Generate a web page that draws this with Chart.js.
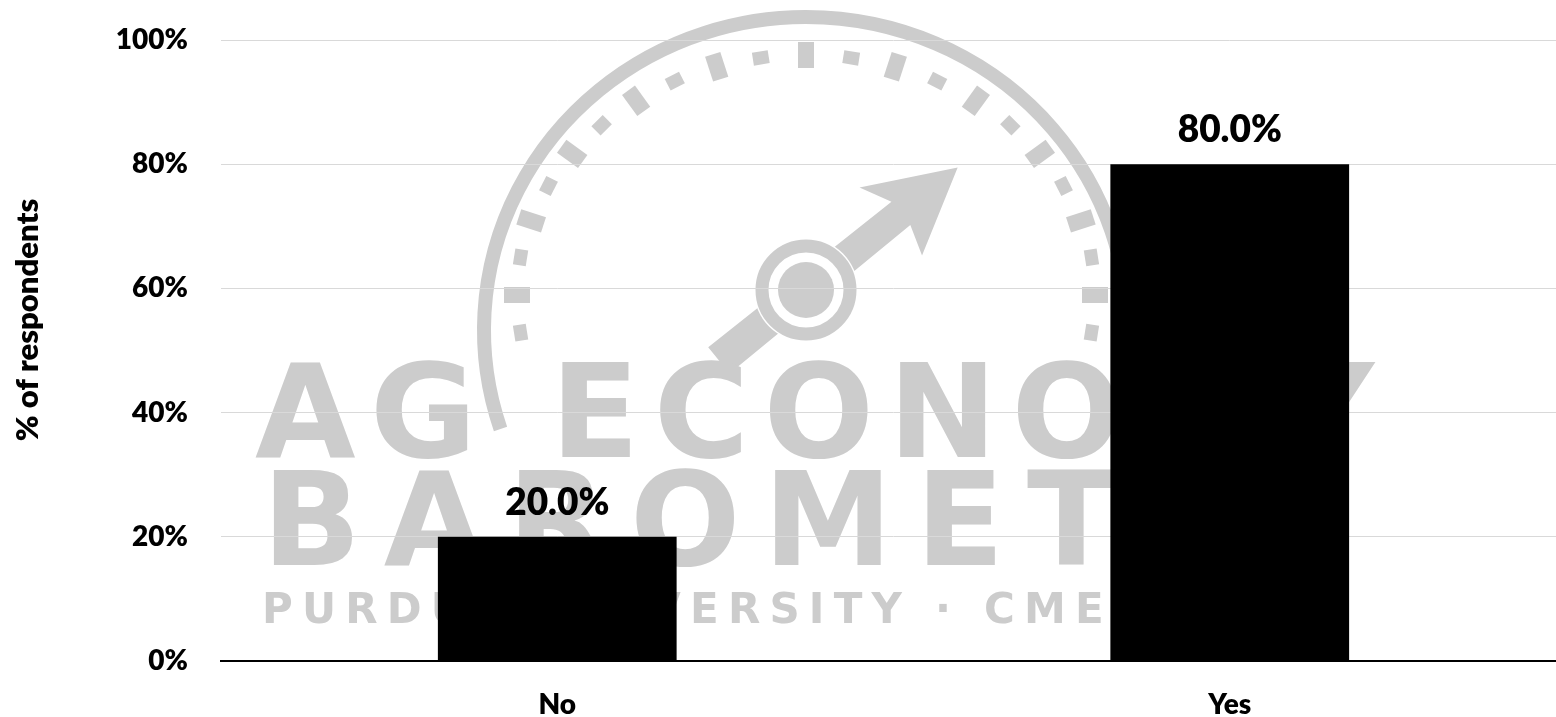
<!DOCTYPE html>
<html>
<head>
<meta charset="utf-8">
<script src="https://cdn.jsdelivr.net/npm/chart.js@4.4.1/dist/chart.umd.min.js"></script>
<style>
html,body{margin:0;padding:0;overflow:hidden;background:#fff}
#wrap{width:1568px;height:717px;position:relative}
</style>
</head>
<body>
<div id="wrap"><canvas id="c"></canvas></div>
<script>
// ---- data ----
const categories = ['No', 'Yes'];
const values = [20.0, 80.0];
const yTickStep = 20;
const yMin = 0;
const yMax = 100;
const yTitle = '% of respondents';
const watermarkLines = ['AG ECONOMY', 'BAROMETER', 'PURDUE UNIVERSITY \u00B7 CME GROUP'];

const FONT = 'Lato, "Open Sans", sans-serif';
const WEIGHT = 800;
const WM = '#cccccc';
const WMFONT = '"DejaVu Sans", "Liberation Sans", sans-serif';

function spacedText(ctx, text, x0, xLast, y) {
  const chars = [...text];
  let total = 0;
  const w = chars.map(ch => ctx.measureText(ch).width);
  for (let i = 0; i < w.length - 1; i++) total += w[i];
  const gap = (xLast - x0 - total) / (chars.length - 1);
  let x = x0;
  chars.forEach((ch, i) => { ctx.fillText(ch, x, y); x += w[i] + gap; });
}

const watermark = {
  id: 'watermark',
  beforeDraw(chart) {
    const ctx = chart.ctx;
    ctx.save();
    ctx.fillStyle = WM;
    ctx.strokeStyle = WM;
    // outer arc
    ctx.lineWidth = 14;
    ctx.beginPath();
    ctx.ellipse(806, 330, 322, 313, 0, 2.82, 2 * Math.PI + 0.32);
    ctx.stroke();
    // dial dashes
    for (let i = 0; i < 23; i++) {
      const deg = -9 + i * 9;
      const a = -deg * Math.PI / 180;
      const cx = 806 + 289 * Math.cos(a);
      const cy = 295 + 240 * Math.sin(a);
      const long = (i % 2 === 1);
      ctx.save();
      ctx.translate(cx, cy);
      ctx.rotate(a);
      const len = long ? 26 : 13;
      ctx.fillRect(-len / 2, -8, len, 16);
      ctx.restore();
    }
    // needle
    const hx = 806, hy = 290;
    const ang = Math.atan2(-122, 151);
    ctx.save();
    ctx.translate(hx, hy);
    ctx.rotate(ang);
    ctx.beginPath();
    ctx.moveTo(-112, -17);
    ctx.lineTo(122, -15);
    ctx.lineTo(106, -46);
    ctx.lineTo(195, 0);
    ctx.lineTo(112, 46);
    ctx.lineTo(122, 15);
    ctx.lineTo(-112, 17);
    ctx.closePath();
    ctx.fill();
    ctx.restore();
    // hub
    ctx.fillStyle = '#fff';
    ctx.beginPath(); ctx.arc(hx, hy, 52, 0, Math.PI * 2); ctx.fill();
    ctx.fillStyle = WM;
    ctx.lineWidth = 13;
    ctx.beginPath(); ctx.arc(hx, hy, 44, 0, Math.PI * 2); ctx.stroke();
    ctx.beginPath(); ctx.arc(hx, hy, 28, 0, Math.PI * 2); ctx.fill();
    // text
    ctx.textAlign = 'left';
    ctx.textBaseline = 'alphabetic';
    ctx.font = 'bold 130px ' + WMFONT;
    spacedText(ctx, watermarkLines[0], 255, 1280, 457);
    spacedText(ctx, watermarkLines[1], 262, 1250, 565);
    ctx.font = 'bold 42px ' + WMFONT;
    spacedText(ctx, watermarkLines[2], 262, 1310, 623);
    ctx.restore();
  }
};

const barLabels = {
  id: 'barLabels',
  afterDatasetsDraw(chart) {
    const ctx = chart.ctx;
    const meta = chart.getDatasetMeta(0);
    ctx.save();
    ctx.fillStyle = '#000';
    ctx.font = WEIGHT + ' 37px ' + FONT;
    ctx.textAlign = 'center';
    ctx.textBaseline = 'alphabetic';
    meta.data.forEach((bar, i) => {
      ctx.fillText(values[i].toFixed(1) + '%', bar.x, bar.y - 22);
    });
    ctx.restore();
  }
};

const axisTitle = {
  id: 'axisTitle',
  afterDraw(chart) {
    const ctx = chart.ctx;
    ctx.save();
    ctx.fillStyle = '#000';
    ctx.font = WEIGHT + ' 31px ' + FONT;
    ctx.textAlign = 'center';
    ctx.textBaseline = 'alphabetic';
    ctx.translate(38, 320);
    ctx.rotate(-Math.PI / 2);
    ctx.fillText(yTitle, 0, 0);
    ctx.restore();
  }
};

new Chart(document.getElementById('c'), {
  type: 'bar',
  data: {
    labels: categories,
    datasets: [{
      data: values,
      backgroundColor: '#000',
      borderWidth: 0,
      categoryPercentage: 1.0,
      barPercentage: 0.355
    }]
  },
  plugins: [watermark, barLabels, axisTitle],
  options: {
    responsive: true,
    maintainAspectRatio: false,
    animation: false,
    devicePixelRatio: 1,
    layout: { padding: { top: 40, left: 0, right: 2, bottom: 0 } },
    plugins: { legend: { display: false }, tooltip: { enabled: false } },
    scales: {
      x: {
        grid: { display: false, drawTicks: false },
        border: { display: true, color: '#000', width: 2 },
        ticks: { color: '#000', font: { family: FONT, weight: WEIGHT, size: 28 }, padding: 27 },
        afterFit(s) { s.height = 56; s.paddingLeft = 0; s.paddingRight = 0; }
      },
      y: {
        min: yMin,
        max: yMax,
        grid: { color: '#d9d9d9', lineWidth: 1, drawTicks: false },
        border: { display: false },
        ticks: {
          stepSize: yTickStep,
          color: '#000',
          font: { family: FONT, weight: WEIGHT, size: 28 },
          padding: 33,
          callback: v => v + '%'
        },
        title: { display: false, text: yTitle },
        afterFit(s) { s.width = 221; s.paddingTop = 0; s.paddingBottom = 0; }
      }
    }
  }
});
</script>
</body>
</html>
